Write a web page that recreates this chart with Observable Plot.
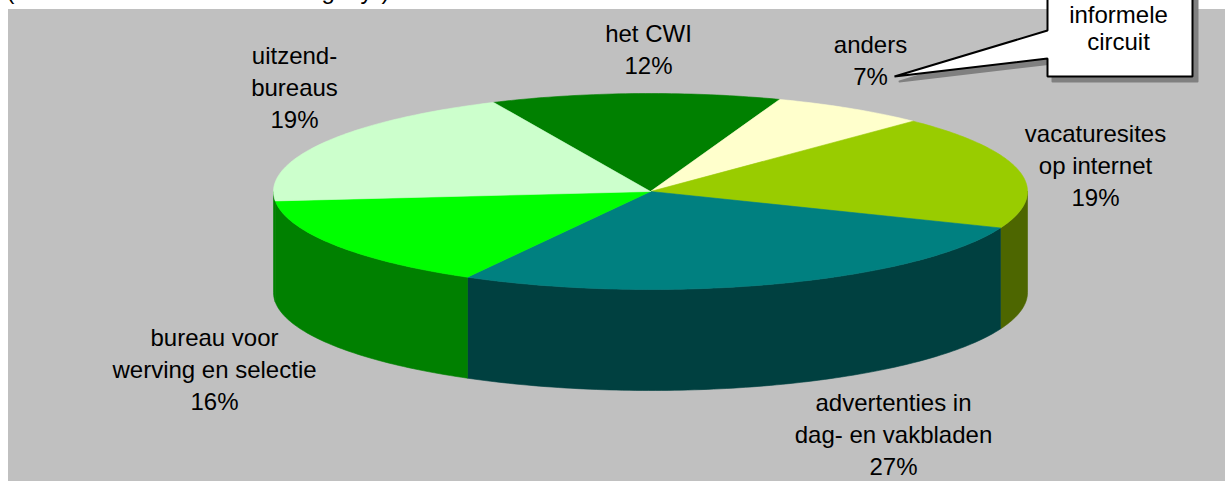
<!DOCTYPE html>
<html>
<head>
<meta charset="utf-8">
<script src="https://cdn.jsdelivr.net/npm/d3@7"></script>
<script src="https://cdn.jsdelivr.net/npm/@observablehq/plot@0.6"></script>
<style>html,body{margin:0;padding:0;background:#fff}svg{display:block}</style>
</head>
<body>
<div id="chart"></div>
<script>
// Data
const categories = ["het CWI", "anders", "vacaturesites op internet", "advertenties in dag- en vakbladen", "bureau voor werving en selectie", "uitzendbureaus"];
const shares = [12.4, 6.7, 18.8, 27.0, 15.4, 19.7];   // slice sizes as measured
const percentLabels = ["12%", "7%", "19%", "27%", "16%", "19%"];
const labelLines = ["het CWI", "anders", "vacaturesites\nop internet", "advertenties in\ndag- en vakbladen", "bureau voor\nwerving en selectie", "uitzend-\nbureaus"];
const topColors = ["#008000", "#FFFFCC", "#99CC00", "#008080", "#00FF00", "#CCFFCC"];
const sideColors = ["#004000", "#808066", "#4D6600", "#004040", "#008000", "#008000"];
const labelX = [648, 870, 1095, 893, 214, 294];
const labelY = [47.5, 58.5, 163, 432, 367.5, 85];

// Layout of the pie in the picture's pixel space
const cx = 650, cy = 191, rx = 377, ry = 98, depth = 101, startDeg = -114.6;
const rad = d => d * Math.PI / 180;
const rim = (deg, dy = 0) => ({x: cx + rx * Math.cos(rad(deg)), y: cy + ry * Math.sin(rad(deg)) + dy});
const arc = (a, b, dy = 0) => {
  const n = Math.max(2, Math.ceil(Math.abs(b - a)));
  return d3.range(n + 1).map(i => rim(a + (b - a) * i / n, dy));
};

const total = d3.sum(shares);
let acc = startDeg;
const slices = categories.map((name, i) => {
  const a = acc, b = acc + shares[i] / total * 360;
  acc = b;
  return {name, a, b, top: topColors[i], side: sideColors[i]};
});

// Only the front half of the rim (0..180 degrees, modulo a turn) has a visible wall
const wallPolys = slices.flatMap(s => {
  return [0, 360].map(off => {
    const a = Math.max(s.a, off), b = Math.min(s.b, off + 180);
    if (b <= a) return null;
    return {fill: s.side, pts: [...arc(a, b), ...arc(b, a, depth)]};
  }).filter(Boolean);
});
const topPolys = slices.map(s => ({fill: s.top, pts: [{x: cx, y: cy}, ...arc(s.a, s.b)]}));

const close = pts => [...pts, pts[0]];
const poly = (p) => Plot.line(close(p.pts), {x: "x", y: "y", fill: p.fill, stroke: p.fill, strokeWidth: 0.6, curve: "linear"});

const calloutOutline = [[1047, -6], [1192, -6], [1192, 76], [1047, 76], [1047, 58], [894, 76], [1047, 30]].map(([x, y]) => ({x, y}));
const calloutShadow = calloutOutline.map(({x, y}) => ({x: x + 5, y: y + 5}));
const calloutText = ["informele\ncircuit"];
const clippedLine = [{t: "(", x: 6}, {t: "g", x: 321}, {t: "y", x: 360}, {t: ")", x: 381}];
const labels = categories.map((c, i) => ({text: labelLines[i] + "\n" + percentLabels[i], x: labelX[i], y: labelY[i]}));

const font = {fontFamily: "'Liberation Sans', Arial, sans-serif", fontSize: 24, fill: "#000", stroke: "none"};

const chart = Plot.plot({
  width: 1225, height: 481,
  margin: 0,
  x: {domain: [0, 1225], range: [0, 1225], axis: null},
  y: {domain: [0, 481], range: [0, 481], axis: null},
  style: {background: "#fff", overflow: "hidden"},
  marks: [
    Plot.rect([{x1: 8, x2: 1225, y1: 9, y2: 481}], {x1: "x1", x2: "x2", y1: "y1", y2: "y2", fill: "#C0C0C0", inset: 0}),
    Plot.text(clippedLine, {x: "x", y: () => -2, text: "t", textAnchor: "start", lineAnchor: "bottom", ...font}),
    ...wallPolys.map(poly),
    ...topPolys.map(poly),
    Plot.text(labels, {x: "x", y: "y", text: "text", lineHeight: 1.333, textAnchor: "middle", lineAnchor: "middle", ...font, style: {letterSpacing: "0.12px"}}),
    Plot.line(close(calloutShadow), {x: "x", y: "y", fill: "#808080", stroke: "#808080", strokeWidth: 2, curve: "linear"}),
    Plot.line(close(calloutOutline), {x: "x", y: "y", fill: "#fff", stroke: "#000", strokeWidth: 2, strokeLinejoin: "miter", curve: "linear"}),
    Plot.text(calloutText, {x: () => 1118, y: () => 27.5, text: d => d, lineHeight: 1.125, textAnchor: "middle", lineAnchor: "middle", ...font})
  ]
});
document.getElementById("chart").append(chart);
</script>
</body>
</html>
